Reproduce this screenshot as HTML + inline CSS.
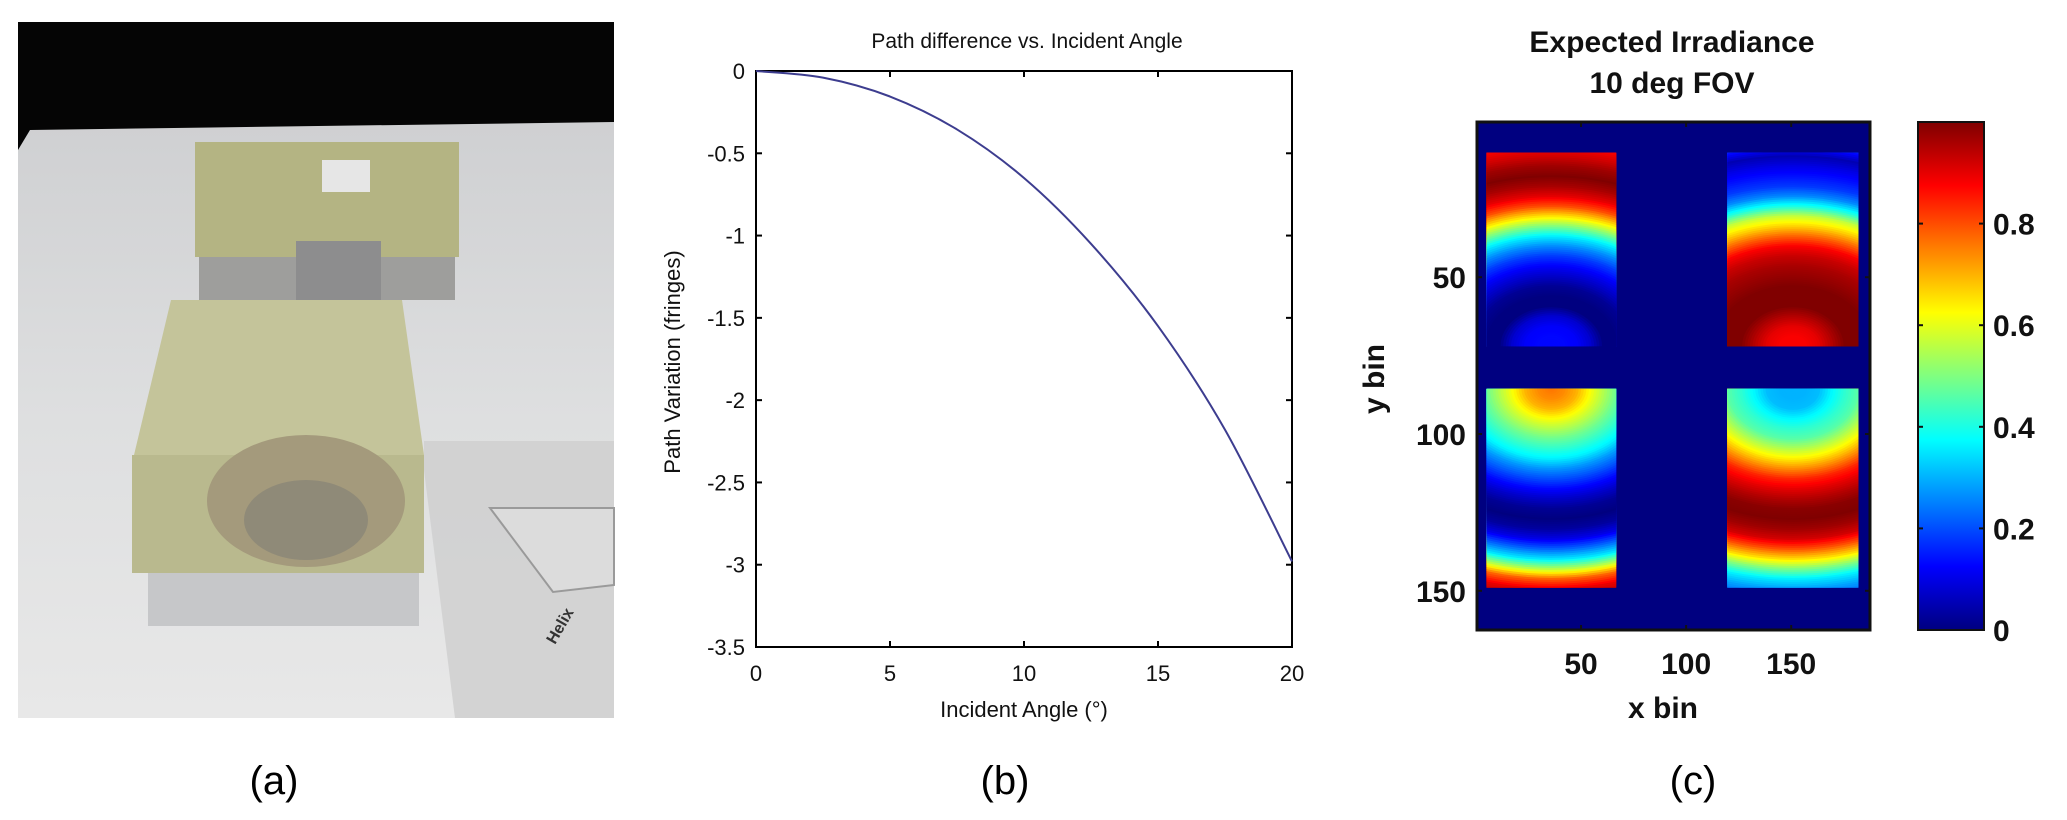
<!DOCTYPE html>
<html><head><meta charset="utf-8">
<style>
html,body{margin:0;padding:0;background:#fff;}
svg{display:block;font-family:"Liberation Sans",sans-serif;}
</style></head>
<body>
<svg id="root" width="2067" height="820" viewBox="0 0 2067 820" xmlns="http://www.w3.org/2000/svg">
<defs>
  <linearGradient id="tableGrad" x1="0" y1="0" x2="0" y2="1">
    <stop offset="0" stop-color="#cfd0d2"/><stop offset="0.5" stop-color="#dedfe0"/><stop offset="1" stop-color="#e8e8e8"/>
  </linearGradient>
  <linearGradient id="jetGrad" x1="0" y1="1" x2="0" y2="0"></linearGradient>
  <clipPath id="clipTL"><rect id="cTL"/></clipPath>
  <clipPath id="clipTR"><rect id="cTR"/></clipPath>
  <clipPath id="clipBL"><rect id="cBL"/></clipPath>
  <clipPath id="clipBR"><rect id="cBR"/></clipPath>
</defs>

<g>
  <rect x="18" y="22" width="596" height="696" fill="#050505"/>
  <polygon points="30,130 614,122 614,718 18,718 18,150" fill="url(#tableGrad)"/>
  <rect x="195" y="142" width="264" height="115" fill="#b4b483"/>
  <rect x="199" y="257" width="256" height="43" fill="#9e9e9c"/>
  <rect x="322" y="160" width="48" height="32" fill="#e6e6e6"/>
  <rect x="296" y="241" width="85" height="75" fill="#8d8d8e"/>
  <rect x="148" y="560" width="271" height="66" fill="#c6c7c9"/>
  <polygon points="171,300 402,300 424,455 134,455" fill="#c4c49a"/>
  <rect x="132" y="455" width="292" height="118" fill="#b9b98e"/>
  <ellipse cx="306" cy="501" rx="99" ry="66" fill="#a49a7c"/>
  <ellipse cx="306" cy="520" rx="62" ry="40" fill="#8f8a78"/>
  <polygon points="424,441 614,441 614,718 455,718 424,470" fill="#d0d0d0" opacity="0.9"/>
  <polygon points="490,508 614,508 614,585 553,592" fill="#dcdcdc" stroke="#9a9a9a" stroke-width="2"/>
  <text x="555" y="645" font-size="16" font-weight="bold" fill="#333" transform="rotate(-60 555 645)">Helix</text>
  <text x="274" y="794" font-size="40" text-anchor="middle" fill="#000">(a)</text>
</g>

<g id="chartB"></g>
<g id="chartC"></g>
</svg>

<script>
// ---------- Chart (b) data ----------
const angleValues = [0, 2.5, 5, 7.5, 10, 12.5, 15, 17.5, 20];
const pathValues = [0, -0.04, -0.155, -0.355, -0.65, -1.05, -1.55, -2.18, -2.98];
const xTicksB = [0, 5, 10, 15, 20];
const yTicksB = [0, -0.5, -1, -1.5, -2, -2.5, -3, -3.5];

// ---------- Chart (c) data ----------
const colorbarTicks = [0, 0.2, 0.4, 0.6, 0.8];
const xTicksC = [50, 100, 150];
const yTicksC = [50, 100, 150];
const profileTL = [0.13,0.13,0.12,0.08,0.0,0.0,0.02,0.07,0.12,0.18,0.26,0.36,0.5,0.65,0.8,0.9,0.96,1.0,0.97,0.92,0.88,0.85];
const profileTR = [0.88,0.88,0.9,0.95,1.0,1.0,1.0,0.98,0.96,0.93,0.88,0.78,0.67,0.57,0.4,0.26,0.18,0.14,0.1,0.05,0.15,0.2];
const profileBL = [0.76,0.74,0.7,0.62,0.55,0.48,0.42,0.36,0.27,0.2,0.13,0.07,0.02,0.0,0.03,0.1,0.22,0.35,0.55,0.78,0.9,0.95];
const profileBR = [0.3,0.3,0.31,0.37,0.42,0.46,0.55,0.64,0.74,0.84,0.9,0.95,0.99,1.0,0.97,0.92,0.8,0.66,0.5,0.36,0.28,0.22];
const quadTL = [5, 66.7, 10.3, 72];
const quadTR = [119.6, 182, 10.3, 72];
const quadBL = [5, 66.7, 85.6, 149];
const quadBR = [119.6, 182, 85.6, 149];

const NS = "http://www.w3.org/2000/svg";
function mk(tag, attrs, parent){const e=document.createElementNS(NS,tag);for(const k in attrs)e.setAttribute(k,attrs[k]);parent.appendChild(e);return e;}

(function(){
  const g = document.getElementById('chartB');
  const L=756,R=1292,T=71,B=647;
  const sx=v=>L+(v-0)/(20-0)*(R-L);
  const sy=v=>T+(0-v)/(3.5)*(B-T);
  const t = mk('text',{x:1027,y:48,'font-size':21,'text-anchor':'middle',fill:'#111'},g);
  t.textContent='Path difference vs. Incident Angle';
  
  
  const frame = mk('rect',{x:L,y:T,width:R-L,height:B-T,fill:'#fff',stroke:'#000','stroke-width':2},g);
  
  
  xTicksB.forEach(v=>{
    const x=sx(v);
    mk('line',{x1:x,y1:B,x2:x,y2:B-6,stroke:'#000','stroke-width':2},g);
    mk('line',{x1:x,y1:T,x2:x,y2:T+6,stroke:'#000','stroke-width':2},g);
    const tx=mk('text',{x:x,y:681,'font-size':22,'text-anchor':'middle',fill:'#111'},g);
    tx.textContent=String(v);
    
    
  });
  yTicksB.forEach(v=>{
    const y=sy(v);
    mk('line',{x1:L,y1:y,x2:L+6,y2:y,stroke:'#000','stroke-width':2},g);
    mk('line',{x1:R,y1:y,x2:R-6,y2:y,stroke:'#000','stroke-width':2},g);
    const ty=mk('text',{x:745,y:y+8,'font-size':22,'text-anchor':'end',fill:'#111'},g);
    ty.textContent=String(v);
    
    
  });
  const xl=mk('text',{x:1024,y:717,'font-size':22,'text-anchor':'middle',fill:'#111'},g);
  xl.textContent='Incident Angle (°)';
  
  
  const yl=mk('text',{x:0,y:0,'font-size':22,'text-anchor':'middle',fill:'#111',transform:'translate(680 362) rotate(-90)'},g);
  yl.textContent='Path Variation (fringes)';
  
  
  const pts=angleValues.map((a,i)=>[sx(a),sy(pathValues[i])]);
  let d='M'+pts[0][0]+','+pts[0][1];
  for(let i=0;i<pts.length-1;i++){
    const p0=pts[Math.max(0,i-1)],p1=pts[i],p2=pts[i+1],p3=pts[Math.min(pts.length-1,i+2)];
    const c1=[p1[0]+(p2[0]-p0[0])/6,p1[1]+(p2[1]-p0[1])/6];
    const c2=[p2[0]-(p3[0]-p1[0])/6,p2[1]-(p3[1]-p1[1])/6];
    d+=` C${c1[0]},${c1[1]} ${c2[0]},${c2[1]} ${p2[0]},${p2[1]}`;
  }
  const line=mk('path',{d:d,fill:'none',stroke:'#3d3d8f','stroke-width':2},g);
  
  
  const lb=mk('text',{x:1005,y:794,'font-size':40,'text-anchor':'middle',fill:'#000'},g);
  lb.textContent='(b)';
  
  
})();

function jet(v){
  v=Math.max(0,Math.min(1,v));
  const r=Math.max(0,Math.min(1,1.5-Math.abs(4*v-3)));
  const g=Math.max(0,Math.min(1,1.5-Math.abs(4*v-2)));
  const b=Math.max(0,Math.min(1,1.5-Math.abs(4*v-1)));
  return `rgb(${Math.round(r*255)},${Math.round(g*255)},${Math.round(b*255)})`;
}
(function(){
  const g=document.getElementById('chartC');
  const L=1477,R=1870,T=122,B=630;
  const x0=0.5,x1=187.5,y0=0.5,y1=162.5;
  const sx=v=>L+(v-x0)/(x1-x0)*(R-L);
  const sy=v=>T+(v-y0)/(y1-y0)*(B-T);
  const t1=mk('text',{x:1672,y:52,'font-size':30,'font-weight':'bold','text-anchor':'middle',fill:'#111'},g);
  t1.textContent='Expected Irradiance';
  
  
  const t2=mk('text',{x:1672,y:93,'font-size':30,'font-weight':'bold','text-anchor':'middle',fill:'#111'},g);
  t2.textContent='10 deg FOV';
  
  
  const bg=mk('rect',{x:L,y:T,width:R-L,height:B-T,fill:jet(0)},g);
  
  
  const quads=[['TL',quadTL,profileTL,'bottom'],['TR',quadTR,profileTR,'bottom'],['BL',quadBL,profileBL,'top'],['BR',quadBR,profileBR,'top']];
  quads.forEach(([id,q,prof,edge])=>{
    const qx=sx(q[0]),qy=sy(q[2]),qw=sx(q[1])-sx(q[0]),qh=sy(q[3])-sy(q[2]);
    const cr=document.getElementById('c'+id);
    cr.setAttribute('x',qx);cr.setAttribute('y',qy);cr.setAttribute('width',qw);cr.setAttribute('height',qh);
    const grp=mk('g',{'clip-path':`url(#clip${id})`},g);
    
    
    const cx=qx+qw/2, cy= edge==='bottom'? qy+qh : qy;
    const step=10, sub=2;
    const maxR=(prof.length-1)*step;
    for(let r=maxR;r>=0;r-=sub){
      const f=r/step, i=Math.floor(f), fr=f-i;
      const v = i>=prof.length-1 ? prof[prof.length-1] : prof[i]*(1-fr)+prof[i+1]*fr;
      const e=mk('ellipse',{cx:cx,cy:cy,rx:(r+sub/2)*1.3,ry:r+sub/2,fill:jet(v)},grp);
      
      
    }
  });
  const fr=mk('rect',{x:L,y:T,width:R-L,height:B-T,fill:'none',stroke:'#111','stroke-width':3},g);
  
  
  xTicksC.forEach(v=>{
    const x=sx(v);
    mk('line',{x1:x,y1:B,x2:x,y2:B-5,stroke:'#111','stroke-width':2},g);
    mk('line',{x1:x,y1:T,x2:x,y2:T+5,stroke:'#111','stroke-width':2},g);
    const tx=mk('text',{x:x,y:674,'font-size':30,'font-weight':'bold','text-anchor':'middle',fill:'#111'},g);
    tx.textContent=String(v);
    
    
  });
  yTicksC.forEach(v=>{
    const y=sy(v);
    mk('line',{x1:L,y1:y,x2:L+5,y2:y,stroke:'#111','stroke-width':2},g);
    mk('line',{x1:R,y1:y,x2:R-5,y2:y,stroke:'#111','stroke-width':2},g);
    const ty=mk('text',{x:1466,y:y+11,'font-size':30,'font-weight':'bold','text-anchor':'end',fill:'#111'},g);
    ty.textContent=String(v);
    
    
  });
  const xl=mk('text',{x:1663,y:718,'font-size':30,'font-weight':'bold','text-anchor':'middle',fill:'#111'},g);
  xl.textContent='x bin';
  
  
  const yl=mk('text',{x:0,y:0,'font-size':30,'font-weight':'bold','text-anchor':'middle',fill:'#111',transform:'translate(1384 379) rotate(-90)'},g);
  yl.textContent='y bin';
  
  
  const grad=document.getElementById('jetGrad');
  for(let i=0;i<=64;i++){mk('stop',{offset:i/64,'stop-color':jet(i/64)},grad);}
  const CL=1918,CR=1984;
  const cy=v=>B-(v-0)/(1-0)*(B-T);
  const cb=mk('rect',{x:CL,y:T,width:CR-CL,height:B-T,fill:'url(#jetGrad)',stroke:'#111','stroke-width':2},g);
  
  
  colorbarTicks.forEach(v=>{
    const y=cy(v);
    mk('line',{x1:CR,y1:y,x2:CR-5,y2:y,stroke:'#111','stroke-width':2},g);
    mk('line',{x1:CL,y1:y,x2:CL+5,y2:y,stroke:'#111','stroke-width':2},g);
    const tl=mk('text',{x:1993,y:y+11,'font-size':30,'font-weight':'bold',fill:'#111'},g);
    tl.textContent=String(v);
    
    
  });
  const lb=mk('text',{x:1693,y:794,'font-size':40,'text-anchor':'middle',fill:'#000'},g);
  lb.textContent='(c)';
  
  
})();
</script>
</body></html>
